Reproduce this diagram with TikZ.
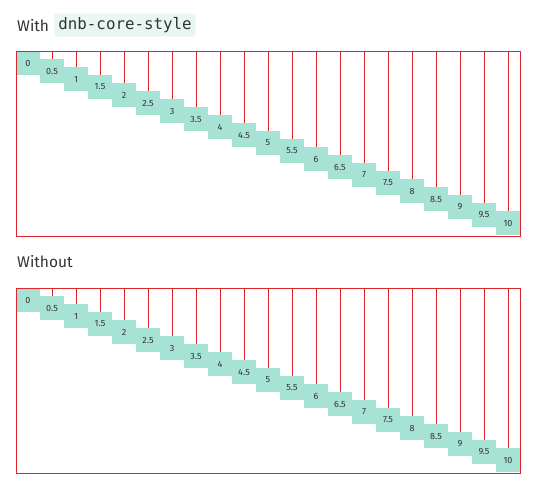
\documentclass[tikz,border=0pt]{standalone}
\usepackage{fontspec}
\setmainfont{Fira Sans}
\setmonofont{DejaVu Sans Mono}
\usetikzlibrary{positioning}
\definecolor{mint}{HTML}{A6E3D4}
\definecolor{mintlight}{HTML}{E9F7F3}
\definecolor{guidered}{HTML}{E0262C}
\definecolor{ink}{HTML}{333333}
\tikzset{
    x=1pt, y=-1pt, % Pixel like coordinates, y going down
    stepbox/.style={ % One value of the staircase
        fill=mint,
        minimum width=24pt,
        minimum height=24pt,
        inner sep=0pt,
        text=ink,
        font=\fontsize{9}{9}\selectfont
    },
    guide/.style={ % Red line from the frame down to a box
        draw=guidered,
        line width=1pt
    },
    frame/.style={
        draw=guidered,
        line width=1pt
    },
    heading/.style={
        text=ink,
        inner sep=0pt,
        font=\fontsize{15.5}{15.5}\selectfont
    },
    codebox/.style={
        fill=mintlight,
        rounded corners=2pt,
        inner xsep=4pt,
        minimum height=23pt,
        text=ink,
        font=\ttfamily\fontsize{15.8}{15.8}\selectfont
    }
}
\begin{document}
\begin{tikzpicture}
    \useasboundingbox (0,0) rectangle (536,488);
    % Headings
    \node[heading, anchor=base west] (with) at (17,31) {With};
    \node[codebox, right=5pt of with] (code) {dnb-core-style};
    \node[heading, anchor=base west] (without) at (17,267) {Without};
    % Two panels: top edge and name
    \foreach \top/\p in {51/a, 288/b} {
        \foreach \i in {0,...,20} {
            \pgfmathtruncatemacro\w{\i/2}
            \node[stepbox] (\p\i) at (28+24*\i, \top+12+8*\i)
                {\ifodd\i\relax\w.5\else\w\fi};
            \coordinate (\p t\i) at (28+24*\i, \top);
            \draw[guide] (\p t\i) -- (\p\i.north);
        }
        \draw[frame] (16,\top) rectangle (520,\top+185);
    }
\end{tikzpicture}
\end{document}
